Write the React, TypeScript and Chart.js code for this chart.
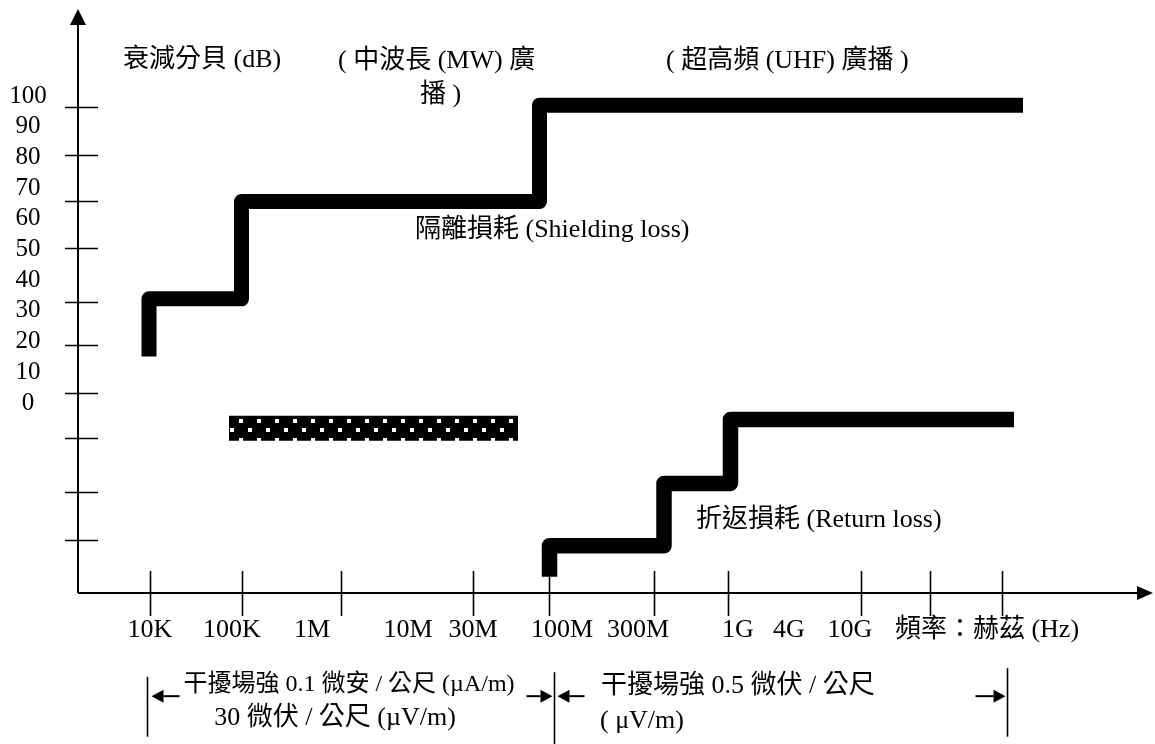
import { useEffect, useRef } from 'react';
import { Chart, registerables } from 'chart.js';

Chart.register(...registerables);

// ---------- data (x = position along the frequency axis, 0..100; y = dB) ----------
const yLabelValues = [0, 10, 20, 30, 40, 50, 60, 70, 80, 90, 100];
const yTickValues = [96.0, 80.4, 65.6, 50.1, 32.5, 18.6, 2.9, -11.8, -29.2, -44.9];

const xTickValues = [7.2, 16.4, 26.3, 39.5, 47.1, 57.6, 65.0, 78.3, 85.2, 92.4];
const xLabels = ['10K', '100K', '1M', '10M', '30M', '100M', '300M', '1G', '4G', '10G', '頻率：赫茲 (Hz)'];
const xLabelPositions = [7.2, 15.4, 23.4, 33.0, 39.5, 48.4, 56.0, 66.0, 71.1, 77.2, 90.9];

const shieldingX = [7.1, 7.1, 16.35, 16.35, 46.15, 46.15, 94.5];
const shieldingY = [14.8, 33.6, 33.6, 65.3, 65.3, 96.7, 96.7];

const returnX = [47.15, 47.15, 58.6, 58.6, 65.25, 65.25, 93.6];
const returnY = [-56.9, -46.8, -46.8, -26.5, -26.5, -5.7, -5.7];

const bandX = [15.1, 44.0];
const bandY = [-8.5, -8.5];

const yAxisTop = 128;
const xAxisEnd = 107.5;

const annotations = [
  { text: '衰減分貝 (dB)', x: 4.5, y: 111.4, align: 'left', size: 26 },
  { text: '( 中波長 (MW) 廣', x: 26.0, y: 111.0, align: 'left', size: 26 },
  { text: '播 )', x: 34.2, y: 100.0, align: 'left', size: 26 },
  { text: '( 超高頻 (UHF) 廣播 )', x: 58.8, y: 111.0, align: 'left', size: 26 },
  { text: '隔離損耗 (Shielding loss)', x: 33.7, y: 56.0, align: 'left', size: 26 },
  { text: '折返損耗 (Return loss)', x: 61.8, y: -38.6, align: 'left', size: 26 },
  { text: '干擾場強 0.1 微安 / 公尺 (µA/m)', x: 27.1, y: -92.2, align: 'center', size: 24 },
  { text: '30 微伏 / 公尺 (µV/m)', x: 25.7, y: -102.9, align: 'center', size: 26 },
  { text: '干擾場強 0.5 微伏 / 公尺', x: 52.3, y: -92.5, align: 'left', size: 26 },
  { text: '( μV/m)', x: 52.2, y: -103.8, align: 'left', size: 26 },
];

// bracket bars under the axis
const bracketX = [6.9, 47.6, 92.9];
const bracketTop = [-89.5, -88.0, -86.7];
const bracketBottom = [-109.0, -111.4, -109.0];
const bracketArrowY = -95.8;

const fontOf = (size: number) => `${size}px "Liberation Serif", "Noto Sans CJK TC", serif`;
const NUM_FONT = '25px "Liberation Serif", serif';

function makePattern(ctx: CanvasRenderingContext2D, ox: number, oy: number) {
  const tile = document.createElement('canvas');
  tile.width = 18;
  tile.height = 19;
  const t = tile.getContext('2d')!;
  t.fillStyle = '#000';
  t.fillRect(0, 0, 18, 19);
  t.fillStyle = '#fff';
  t.fillRect(0, 0, 4, 4);
  t.fillRect(9, 9, 4, 4);
  const p = ctx.createPattern(tile, 'repeat')!;
  p.setTransform(new DOMMatrix().translate(ox, oy));
  return p;
}

function arrow(ctx: CanvasRenderingContext2D, tipX: number, y: number, dir: number, len: number) {
  const head = 12;
  const half = 6.5;
  ctx.beginPath();
  ctx.moveTo(tipX - dir * head, y);
  ctx.lineTo(tipX - dir * len, y);
  ctx.stroke();
  ctx.beginPath();
  ctx.moveTo(tipX, y);
  ctx.lineTo(tipX - dir * head, y - half);
  ctx.lineTo(tipX - dir * head, y + half);
  ctx.closePath();
  ctx.fill();
}

const diagramPlugin = {
  id: 'diagram',
  beforeDatasetsDraw(chart: any) {
    const { ctx } = chart;
    const { x, y } = chart.scales;
    const ax = x.getPixelForValue(0);
    const ay = y.getPixelForValue(y.min);
    ctx.save();
    ctx.strokeStyle = '#000';
    ctx.fillStyle = '#000';
    ctx.lineWidth = 2;
    // y axis with arrow
    const yTop = y.getPixelForValue(yAxisTop);
    ctx.beginPath();
    ctx.moveTo(ax, ay);
    ctx.lineTo(ax, yTop + 12);
    ctx.stroke();
    ctx.beginPath();
    ctx.moveTo(ax, yTop);
    ctx.lineTo(ax - 8, yTop + 16);
    ctx.lineTo(ax + 8, yTop + 16);
    ctx.closePath();
    ctx.fill();
    // x axis with arrow
    const xEnd = x.getPixelForValue(xAxisEnd);
    ctx.beginPath();
    ctx.moveTo(ax, ay);
    ctx.lineTo(xEnd - 12, ay);
    ctx.stroke();
    ctx.beginPath();
    ctx.moveTo(xEnd, ay);
    ctx.lineTo(xEnd - 16, ay - 7);
    ctx.lineTo(xEnd - 16, ay + 7);
    ctx.closePath();
    ctx.fill();
    // ticks
    ctx.lineWidth = 1.6;
    yTickValues.forEach((v) => {
      const py = Math.round(y.getPixelForValue(v)) + 0.5;
      ctx.beginPath();
      ctx.moveTo(ax - 13, py);
      ctx.lineTo(ax + 20, py);
      ctx.stroke();
    });
    xTickValues.forEach((v) => {
      const px = Math.round(x.getPixelForValue(v)) + 0.5;
      ctx.beginPath();
      ctx.moveTo(px, ay - 22);
      ctx.lineTo(px, ay + 23);
      ctx.stroke();
    });
    // tick labels
    ctx.textBaseline = 'middle';
    ctx.textAlign = 'center';
    ctx.font = NUM_FONT;
    yLabelValues.forEach((v) => {
      ctx.fillText(String(v), ax - 50, y.getPixelForValue(v) + 1);
    });
    ctx.font = fontOf(26);
    xLabels.forEach((t, i) => {
      ctx.fillText(t, x.getPixelForValue(xLabelPositions[i]), ay + 37);
    });
    ctx.restore();
  },
  afterDraw(chart: any) {
    const { ctx } = chart;
    const { x, y } = chart.scales;
    ctx.save();
    ctx.fillStyle = '#000';
    ctx.strokeStyle = '#000';
    ctx.textBaseline = 'middle';
    annotations.forEach((a) => {
      ctx.font = fontOf(a.size);
      ctx.textAlign = a.align as CanvasTextAlign;
      ctx.fillText(a.text, x.getPixelForValue(a.x), y.getPixelForValue(a.y));
    });
    // brackets
    ctx.lineWidth = 1.6;
    const bx = bracketX.map((v) => Math.round(x.getPixelForValue(v)) + 0.5);
    bracketX.forEach((_, i) => {
      ctx.beginPath();
      ctx.moveTo(bx[i], y.getPixelForValue(bracketTop[i]));
      ctx.lineTo(bx[i], y.getPixelForValue(bracketBottom[i]));
      ctx.stroke();
    });
    const ay = y.getPixelForValue(bracketArrowY);
    ctx.lineWidth = 2;
    arrow(ctx, bx[0] + 4, ay, -1, 28);
    arrow(ctx, bx[1] - 2, ay, 1, 26);
    arrow(ctx, bx[1] + 3, ay, -1, 27);
    arrow(ctx, bx[2] - 2, ay, 1, 30);
    ctx.restore();
  },
};

export default function App() {
  const ref = useRef<HTMLCanvasElement | null>(null);
  useEffect(() => {
    if (!ref.current) return;
    const lineStyle = {
      borderColor: '#000',
      borderWidth: 15,
      borderJoinStyle: 'round' as const,
      borderCapStyle: 'butt' as const,
      pointRadius: 0,
      fill: false,
      tension: 0,
      clip: false as const,
    };
    const chart = new Chart(ref.current, {
      type: 'line',
      data: {
        datasets: [
          {
            label: '隔離損耗 (Shielding loss)',
            data: shieldingX.map((v, i) => ({ x: v, y: shieldingY[i] })),
            ...lineStyle,
          },
          {
            label: '折返損耗 (Return loss)',
            data: returnX.map((v, i) => ({ x: v, y: returnY[i] })),
            ...lineStyle,
            borderWidth: 15.5,
          },
          {
            label: '干擾',
            data: bandX.map((v, i) => ({ x: v, y: bandY[i] })),
            ...lineStyle,
            borderWidth: 25,
            borderColor: (c: any) => {
              const ch = c.chart;
              const sx = ch.scales?.x;
              const sy = ch.scales?.y;
              if (!sx || !sy || !ch.chartArea) return '#000';
              const ox = Math.round(sx.getPixelForValue(bandX[0]) + 10.3);
              const oy = Math.round(sy.getPixelForValue(bandY[0]) - 12.5 + 3.6);
              return makePattern(ch.ctx, ox, oy);
            },
          },
        ],
      },
      options: {
        responsive: false,
        animation: false,
        events: [],
        layout: { padding: { left: 78, right: 77, top: 95, bottom: 151 } },
        scales: {
          x: { type: 'linear', min: 0, max: 100, display: false },
          y: { type: 'linear', min: -62.2, max: 100, display: false },
        },
        plugins: { legend: { display: false }, tooltip: { enabled: false } },
      },
      plugins: [diagramPlugin],
    });
    return () => chart.destroy();
  }, []);
  return (
    <div style={{ position: 'absolute', left: 0, top: 0, width: 1155, height: 744, background: '#fff' }}>
      <canvas ref={ref} width={1155} height={744} style={{ width: 1155, height: 744, display: 'block' }} />
    </div>
  );
}
